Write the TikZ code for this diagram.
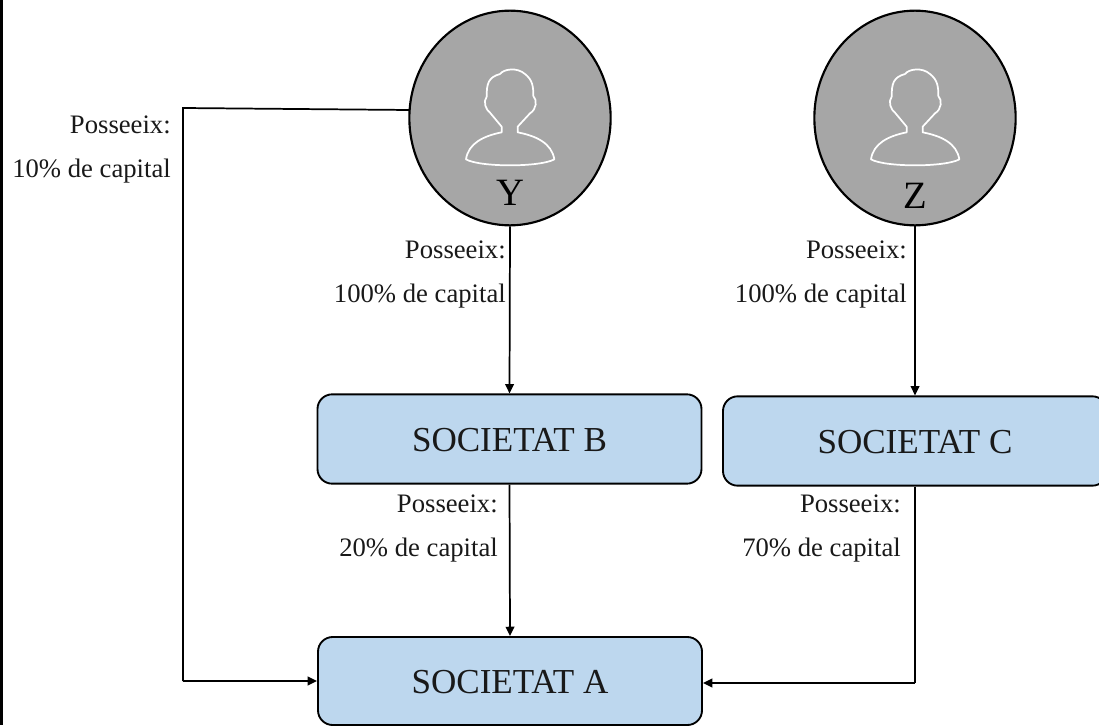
\documentclass[tikz,border=0pt]{standalone}
\usepackage{fontspec}
\setmainfont{Liberation Serif}
\usetikzlibrary{arrows.meta,shapes.geometric}
\definecolor{boxblue}{RGB}{189,215,238}
\definecolor{persongray}{RGB}{166,166,166}
\tikzset{
  px/.style={x=0.75pt,y=-0.75pt},
  person/.style={draw=black,line width=1.6pt,fill=persongray,ellipse,inner sep=0pt,minimum width=151pt,minimum height=161pt},
  company/.style={draw=black,line width=1.4pt,fill=boxblue,rectangle,rounded corners=11pt,inner sep=0pt,text height=18pt,text depth=0pt,font=\fontsize{26.3}{30}\selectfont,text=black!90},
  lbl/.style={anchor=base east,inner sep=0pt,font=\fontsize{20}{22}\selectfont,text=black!90},
  link/.style={draw=black,line width=1.3pt,-{Triangle[length=7pt,width=6.5pt]}},
  linkstart/.style={draw=black,line width=1.3pt},
  icon/.style={draw=white,line width=1.3pt,line join=round}
}
\newcommand{\personicon}{%
  \draw[icon,x=0.25pt,y=-0.25pt] (198,478)
    .. controls (205,430) and (250,408) .. (305,397) -- (305,380)
    -- (270,338) .. controls (258,330) and (248,305) .. (260,290)
    .. controls (260,250) and (265,232) .. (300,222)
    .. controls (310,208) and (350,200) .. (375,222)
    .. controls (398,240) and (400,260) .. (400,288)
    .. controls (412,300) and (410,328) .. (390,340)
    -- (353,380) -- (353,397)
    .. controls (410,408) and (455,430) .. (463,478)
    .. controls (420,502) and (240,502) .. (198,478) -- cycle;
}
\begin{document}
\begin{tikzpicture}[px]
\useasboundingbox (0,0) rectangle (1099,725);
\fill[black] (0,0) rectangle (2.5,725);

\node[person] (Y) at (510,118) {};
\node[person] (Z) at (915,118) {};
\begin{scope}[shift={(400,0)}]\personicon\end{scope}
\begin{scope}[shift={(805,0)}]\personicon\end{scope}
\node[inner sep=0pt,font=\fontsize{29}{32}\selectfont] (Yl) at (510,193) {Y};
\node[inner sep=0pt,font=\fontsize{29}{32}\selectfont] (Zl) at (915,196) {Z};

\node[company,minimum width=288pt,minimum height=67pt] (B) at (509.5,439) {SOCIETAT B};
\node[company,minimum width=288pt,minimum height=67pt] (C) at (915,441) {SOCIETAT C};
\node[company,minimum width=288pt,minimum height=66pt] (A) at (510,681) {SOCIETAT A};

\coordinate (topleft) at (183,108);
\coordinate (botleft) at (183,681);
\coordinate (botright) at (915,683);
\coordinate (Yw) at (410,110);

\draw[linkstart] (Yw) -- (topleft) -- (botleft);
\draw[link] (botleft) -- (botleft -| A.west);
\draw[link] (Y.south) -- (B.north);
\draw[link] (Z.south) -- (C.north);
\draw[link] (B.south) -- (A.north);
\draw[linkstart] (C.south) -- (botright);
\draw[link] (botright) -- (botright -| A.east);

\node[lbl] (l1) at (171,133) {Posseeix:};
\node[lbl] (l2) at (171,177) {10\% de capital};
\node[lbl] (l3) at (506,258) {Posseeix:};
\node[lbl] (l4) at (506,302) {100\% de capital};
\node[lbl] (l5) at (907,258) {Posseeix:};
\node[lbl] (l6) at (907,302) {100\% de capital};
\node[lbl] (l7) at (498,512) {Posseeix:};
\node[lbl] (l8) at (498,556) {20\% de capital};
\node[lbl] (l9) at (901,512) {Posseeix:};
\node[lbl] (l10) at (901,556) {70\% de capital};
\end{tikzpicture}
\end{document}
